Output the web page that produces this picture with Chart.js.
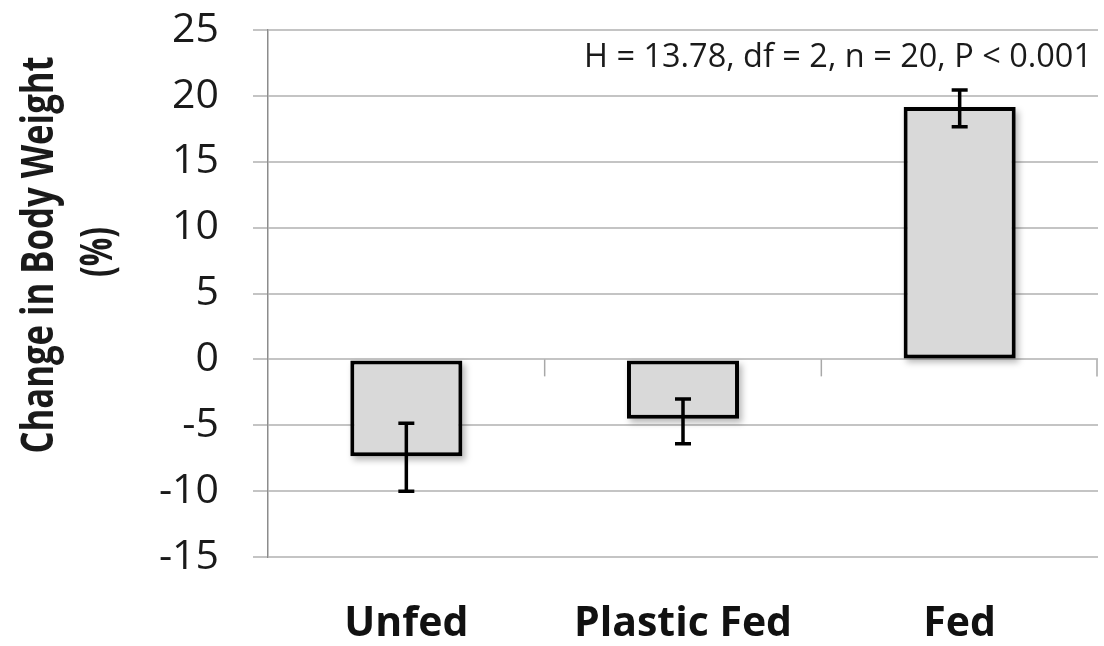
<!DOCTYPE html>
<html>
<head>
<meta charset="utf-8">
<script src="https://cdn.jsdelivr.net/npm/chart.js@4/dist/chart.umd.min.js"></script>
<style>
  html, body { margin: 0; padding: 0; background: #ffffff; }
  #wrap { width: 1104px; height: 646px; position: relative; }
</style>
</head>
<body>
<div id="wrap"><canvas id="c" width="1104" height="646"></canvas></div>
<script>
const categories = ['Unfed', 'Plastic Fed', 'Fed'];
const meanChange = [-7.35, -4.5, 19.15];
const errUpper = [-4.85, -3.0, 20.45];
const errLower = [-10.0, -6.4, 17.65];
const yMin = -15;
const yMax = 25;
const yStep = 5;
const yTitleLines = ['Change in Body Weight', '(%)'];
const statsNote = 'H = 13.78, df = 2, n = 20, P < 0.001';

const FONT = '"Open Sans", "DejaVu Sans", sans-serif';

const decorPlugin = {
  id: 'decor',
  beforeDatasetsDraw(chart) {
    const ctx = chart.ctx;
    const meta = chart.getDatasetMeta(0);
    ctx.save();
    ctx.filter = 'blur(3px)';
    ctx.fillStyle = 'rgba(0,0,0,0.28)';
    meta.data.forEach(bar => {
      const left = bar.x - bar.width / 2;
      const top = Math.min(bar.y, bar.base);
      const h = Math.abs(bar.base - bar.y);
      ctx.fillRect(left + 3, top + 4, bar.width, h);
    });
    ctx.restore();
  },
  afterDatasetsDraw(chart) {
    const ctx = chart.ctx;
    const ys = chart.scales.y;
    const meta = chart.getDatasetMeta(0);
    ctx.save();
    ctx.strokeStyle = '#000';
    ctx.lineWidth = 3.5;
    ctx.lineCap = 'butt';
    meta.data.forEach((bar, i) => {
      const x = bar.x;
      const yu = ys.getPixelForValue(errUpper[i]);
      const yl = ys.getPixelForValue(errLower[i]);
      ctx.beginPath();
      ctx.moveTo(x, yu); ctx.lineTo(x, yl);
      ctx.moveTo(x - 8, yu); ctx.lineTo(x + 8, yu);
      ctx.moveTo(x - 8, yl); ctx.lineTo(x + 8, yl);
      ctx.stroke();
    });
    ctx.restore();
  },
  afterDraw(chart) {
    const ctx = chart.ctx;
    const xs = chart.scales.x;
    const ys = chart.scales.y;
    const area = chart.chartArea;
    const y0 = ys.getPixelForValue(0);
    const step = xs.getPixelForValue(1) - xs.getPixelForValue(0);
    ctx.save();
    ctx.strokeStyle = '#a8a8a8';
    ctx.lineWidth = 1.5;
    for (let i = 1; i <= categories.length; i++) {
      const x = Math.min(xs.getPixelForValue(0) - step / 2 + i * step, area.right - 1);
      ctx.beginPath();
      ctx.moveTo(x, y0); ctx.lineTo(x, y0 + 17);
      ctx.stroke();
    }
    ctx.restore();
    ctx.save();
    ctx.fillStyle = '#1a1a1a';
    ctx.font = '33px ' + FONT;
    ctx.textAlign = 'right';
    ctx.textBaseline = 'middle';
    ctx.fillText(statsNote, area.right - 6, 58, 508);
    ctx.restore();
    ctx.save();
    ctx.fillStyle = '#1a1a1a';
    ctx.font = 'bold 44px ' + FONT;
    ctx.textAlign = 'center';
    ctx.textBaseline = 'middle';
    ctx.translate(40, 255);
    ctx.rotate(-Math.PI / 2);
    ctx.fillText(yTitleLines[0], 0, 0, 397);
    ctx.restore();
    ctx.save();
    ctx.fillStyle = '#1a1a1a';
    ctx.font = 'bold 44px ' + FONT;
    ctx.textAlign = 'center';
    ctx.textBaseline = 'middle';
    ctx.translate(99, 252);
    ctx.rotate(-Math.PI / 2);
    ctx.fillText(yTitleLines[1], 0, 0, 50);
    ctx.restore();
  }
};

new Chart(document.getElementById('c'), {
  type: 'bar',
  data: {
    labels: categories,
    datasets: [{
      data: meanChange,
      backgroundColor: '#d9d9d9',
      borderColor: '#000000',
      borderWidth: 4,
      borderSkipped: false,
      categoryPercentage: 1.0,
      barPercentage: 0.405
    }]
  },
  options: {
    responsive: false,
    animation: false,
    devicePixelRatio: 1,
    layout: { padding: { top: 30, right: 6, bottom: 0, left: 0 } },
    plugins: {
      legend: { display: false },
      tooltip: { enabled: false },
      title: { display: false }
    },
    scales: {
      x: {
        grid: { display: false, drawTicks: false },
        border: { display: false },
        ticks: {
          font: { family: FONT, size: 41, weight: 'bold' },
          color: '#111',
          padding: 43,
          maxRotation: 0,
          autoSkip: false
        },
        afterFit(s) { s.height = 89; s.paddingLeft = 0; s.paddingRight = 0; }
      },
      y: {
        min: yMin,
        max: yMax,
        ticks: {
          stepSize: yStep,
          font: { family: FONT, size: 41 },
          color: '#1a1a1a',
          padding: 34
        },
        grid: {
          color: '#c4c4c4',
          lineWidth: 2,
          tickLength: 15
        },
        border: { display: true, color: '#8c8c8c', width: 1.5 },
        afterFit(s) { s.width = 268; s.paddingTop = 0; s.paddingBottom = 0; }
      }
    }
  },
  plugins: [decorPlugin]
});
</script>
</body>
</html>
